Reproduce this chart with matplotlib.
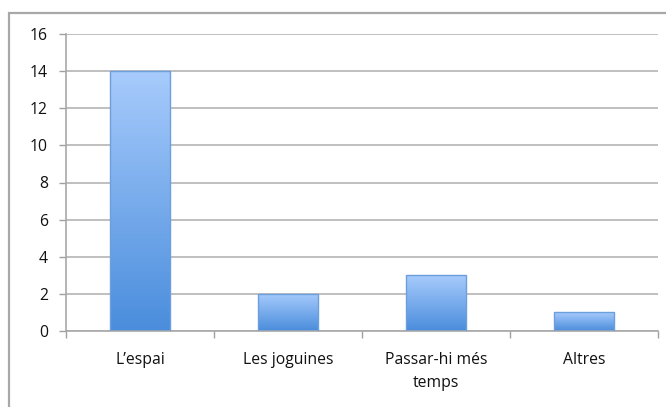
import numpy as np
import matplotlib.pyplot as plt
from matplotlib.colors import LinearSegmentedColormap
from matplotlib.patches import Rectangle

categories = ["L\u2019espai", "Les joguines", "Passar-hi m\u00e9s\ntemps", "Altres"]
values = [14, 2, 3, 1]
yticks = [0, 2, 4, 6, 8, 10, 12, 14, 16]

plt.rcParams['font.family'] = ['Open Sans', 'DejaVu Sans']

fig = plt.figure(figsize=(6.66, 4.07), dpi=100)
ax = fig.add_axes([66 / 666, 1 - 331 / 407, 592 / 666, 297 / 407])

# outer frame of the chart, runs off the right and bottom edges
fig.patches.append(Rectangle((9 / 666, -0.1), 1.2, 1 - 13 / 407 + 0.1,
                             transform=fig.transFigure, fill=False,
                             edgecolor='#a8a8a8', linewidth=1.6))

grad = LinearSegmentedColormap.from_list('bar', ['#4a8ddc', '#a7cbfc'])
x = np.arange(len(categories))
width = 0.41
bars = ax.bar(x, values, width=width, color='none', edgecolor='#6d9fdc',
              linewidth=1.0, zorder=3)
g = np.linspace(0, 1, 256).reshape(-1, 1)
for b in bars:
    x0, y0 = b.get_x(), b.get_y()
    im = ax.imshow(g, cmap=grad, origin='lower', aspect='auto',
                   extent=[x0, x0 + b.get_width(), y0, y0 + b.get_height()],
                   zorder=2)
    im.set_clip_path(b)

ax.set_xlim(-0.5, len(categories) - 0.5)
ax.set_ylim(0, 16)
ax.set_yticks(yticks)
ax.set_xticks(x)
ax.set_xticklabels(categories, linespacing=1.6)
ax.set_xticks(np.arange(len(categories) + 1) - 0.5, minor=True)
ax.tick_params(axis='x', which='major', length=0, pad=15)
ax.tick_params(axis='x', which='minor', length=5, color='#a0a0a0', width=1)
ax.tick_params(axis='y', length=5, color='#a0a0a0', width=1, pad=8)
for lab in ax.get_xticklabels() + ax.get_yticklabels():
    lab.set_fontsize(11.3)
    lab.set_color('#111111')

ax.grid(axis='y', color='#b4b4b4', linewidth=1.2, zorder=0)
ax.set_axisbelow(True)
for s in ['top', 'right']:
    ax.spines[s].set_visible(False)
for s in ['left', 'bottom']:
    ax.spines[s].set_color('#a8a8a8')
    ax.spines[s].set_linewidth(1.2)

fig.savefig('out.png', dpi=100)
